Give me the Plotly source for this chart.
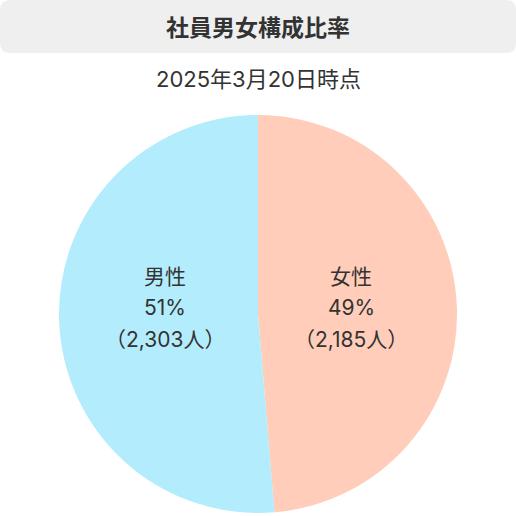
import math
import plotly.graph_objects as go

# Données du graphique
labels = ["女性", "男性"]
effectifs = [2185, 2303]
couleurs = ["#FFCDB9", "#B3EDFD"]
titre = "社員男女構成比率"
sous_titre = "2025年3月20日時点"

W, H = 516, 516
police = "Inter, Noto Sans CJK JP"
texte_couleur = "#333333"

# Géométrie du camembert (en pixels)
cx, cy, rayon = 258, 314, 199

fig = go.Figure(go.Pie(
    labels=labels,
    values=effectifs,
    marker=dict(colors=couleurs, line=dict(width=0)),
    sort=False,
    direction="clockwise",
    rotation=0,
    textinfo="none",
    hoverinfo="skip",
    domain=dict(x=[(cx - rayon) / W, (cx + rayon) / W],
                y=[1 - (cy + rayon) / H, 1 - (cy - rayon) / H]),
    showlegend=False,
))


def py(y):
    return 1 - y / H


# Étiquettes des parts : libellé, pourcentage, effectif
total = sum(effectifs)
annotations = []
debut = 0.0
for lab, val in zip(labels, effectifs):
    angle = 360 * val / total
    milieu = math.radians(debut + angle / 2)
    debut += angle
    x_txt = cx + 0.47 * rayon * math.sin(milieu)
    lignes = [lab, f"{round(100 * val / total)}%", f"（{val:,}人）"]
    for i, ligne in enumerate(lignes):
        annotations.append(dict(
            text=ligne, x=x_txt / W, y=py(276 + 31.5 * i), xref="paper", yref="paper",
            showarrow=False, xanchor="center", yanchor="middle",
            font=dict(family=police, size=21, color=texte_couleur)))

# Cadre gris arrondi du titre
r = 10
x0, x1, y0, y1 = 0, 516, 0, 53
def px(x):
    return x / W
path = (f"M {px(x0 + r)},{py(y0)} L {px(x1 - r)},{py(y0)} "
        f"Q {px(x1)},{py(y0)} {px(x1)},{py(y0 + r)} L {px(x1)},{py(y1 - r)} "
        f"Q {px(x1)},{py(y1)} {px(x1 - r)},{py(y1)} L {px(x0 + r)},{py(y1)} "
        f"Q {px(x0)},{py(y1)} {px(x0)},{py(y1 - r)} L {px(x0)},{py(y0 + r)} "
        f"Q {px(x0)},{py(y0)} {px(x0 + r)},{py(y0)} Z")

annotations += [
    dict(text=f"<b>{titre}</b>", x=0.5, y=py(28), xref="paper", yref="paper",
         showarrow=False, font=dict(family=police, size=23, color=texte_couleur),
         xanchor="center", yanchor="middle"),
    dict(text=sous_titre, x=0.5, y=py(79), xref="paper", yref="paper",
         showarrow=False, font=dict(family=police, size=22, color=texte_couleur),
         xanchor="center", yanchor="middle"),
]

fig.update_layout(
    width=W, height=H,
    margin=dict(l=0, r=0, t=0, b=0),
    paper_bgcolor="white",
    plot_bgcolor="white",
    shapes=[dict(type="path", path=path, xref="paper", yref="paper",
                 fillcolor="#EFEFEF", line=dict(width=0), layer="below")],
    annotations=annotations,
)

fig.write_html("out.html", config={"displayModeBar": False},
               post_script="document.body.style.margin='0';")
